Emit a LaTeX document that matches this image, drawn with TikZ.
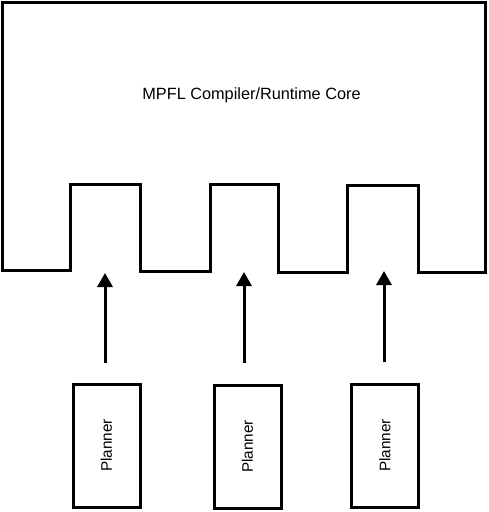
\documentclass[tikz,border=0pt]{standalone}
\usepackage{fontspec}
\setmainfont{Liberation Sans}
\usetikzlibrary{arrows.meta}
\begin{document}
\begin{tikzpicture}[x=1pt,y=-1pt,
  line join=miter,
  corebox/.style={line width=3pt},
  planner/.style={draw,line width=3pt,minimum width=67pt,minimum height=123pt,inner sep=0pt},
  feed/.style={line width=3pt,-{Triangle[width=15pt,length=14pt]}}]
\useasboundingbox (0,0) rectangle (489,512);
\draw[corebox] (2,2) -- (485,2) -- (485,272) -- (418,272) -- (418,185) -- (347,185)
  -- (347,272) -- (278,272) -- (278,184) -- (210,184) -- (210,271) -- (140,271)
  -- (140,184) -- (70,184) -- (70,270) -- (2,270) -- cycle;
\node (core) at (251.5,95) {\fontsize{16.3pt}{19pt}\selectfont MPFL Compiler/Runtime Core};
\node[planner] (p1) at (106.5,445.5) {};
\node[planner] (p2) at (247.5,446.5) {};
\node[planner] (p3) at (385,445.5) {};
\node[rotate=90] (t1) at (p1) {\fontsize{15.3pt}{17pt}\selectfont Planner};
\node[rotate=90] (t2) at (p2) {\fontsize{15.3pt}{17pt}\selectfont Planner};
\node[rotate=90] (t3) at (p3) {\fontsize{15.3pt}{17pt}\selectfont Planner};
\coordinate (s1) at (105,363);
\coordinate (e1) at (105,273);
\coordinate (s2) at (244,363);
\coordinate (e2) at (244,272);
\coordinate (s3) at (384,362);
\coordinate (e3) at (384,271);
\draw[feed] (s1) -- (e1);
\draw[feed] (s2) -- (e2);
\draw[feed] (s3) -- (e3);
\end{tikzpicture}
\end{document}
